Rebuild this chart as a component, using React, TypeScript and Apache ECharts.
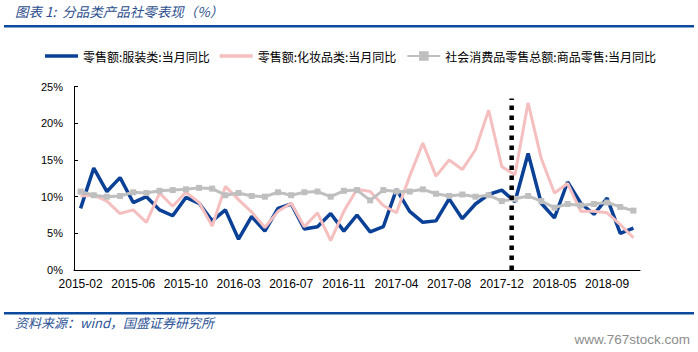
import React, { useEffect, useRef } from 'react';
import * as echarts from 'echarts';

const categories = [
  '2015-02', '2015-03', '2015-04', '2015-05', '2015-06', '2015-07', '2015-08', '2015-09', '2015-10', '2015-11', '2015-12',
  '2016-02', '2016-03', '2016-04', '2016-05', '2016-06', '2016-07', '2016-08', '2016-09', '2016-10', '2016-11', '2016-12',
  '2017-02', '2017-03', '2017-04', '2017-05', '2017-06', '2017-07', '2017-08', '2017-09', '2017-10', '2017-11', '2017-12',
  '2018-02', '2018-03', '2018-04', '2018-05', '2018-06', '2018-07', '2018-08', '2018-09', '2018-10', '2018-11',
];

// 零售额:服装类:当月同比
const apparel = [
  8.4, 13.9, 10.7, 12.6, 9.2, 10.0, 8.2, 7.4, 9.9, 9.1, 6.7,
  8.2, 4.2, 7.3, 5.3, 8.4, 9.0, 5.6, 5.9, 7.7, 5.3, 7.5,
  5.2, 5.9, 11.0, 8.0, 6.5, 6.7, 9.7, 7.0, 9.0, 10.3, 10.9,
  9.3, 15.9, 9.1, 7.1, 12.0, 9.1, 7.6, 9.8, 5.0, 5.7,
];

// 零售额:化妆品类:当月同比
const cosmetics = [
  10.1, 10.2, 9.4, 7.7, 8.2, 6.5, 10.5, 8.7, 10.6, 9.2, 6.0,
  11.4, 9.6, 7.9, 5.8, 8.0, 9.1, 5.9, 7.8, 4.0, 8.0, 11.0,
  10.7, 8.8, 7.8, 12.8, 17.3, 12.8, 15.0, 13.7, 16.4, 21.8, 14.1,
  13.0, 22.8, 15.2, 10.5, 11.8, 8.0, 8.0, 7.8, 6.2, 4.4,
];

// 社会消费品零售总额:商品零售:当月同比
const retailTotal = [
  10.7, 10.2, 10.0, 10.1, 10.6, 10.5, 10.8, 10.9, 11.0, 11.2, 11.1,
  10.2, 10.5, 10.1, 10.0, 10.6, 10.2, 10.6, 10.7, 10.0, 10.8, 10.9,
  9.5, 10.9, 10.7, 10.7, 11.0, 10.4, 10.1, 10.3, 10.0, 10.2, 9.4,
  9.7, 10.1, 9.4, 8.5, 9.0, 8.8, 9.0, 9.2, 8.6, 8.1,
];

const seriesNames = [
  '零售额:服装类:当月同比',
  '零售额:化妆品类:当月同比',
  '社会消费品零售总额:商品零售:当月同比',
];

const yMin = 0;
const yMax = 25;
const yStep = 5;

// vertical dotted separator, between 2017-12 and 2018-02 (in category-slot units)
const BREAK_POSITION = 33.25;
const BREAK_TOP = 23.4;

const LINE_ICON = 'path://M0,0H33V3.5H0Z';

export default function App() {
  const ref = useRef<HTMLDivElement>(null);

  useEffect(() => {
    const chart = echarts.init(ref.current as HTMLDivElement, null, { renderer: 'svg' });
    const axisColor = '#000';
    chart.setOption({
      animation: false,
      backgroundColor: '#fff',
      grid: { left: 74, right: 58, top: 86.7, bottom: 82, containLabel: false },
      legend: {
        left: 40,
        top: 45,
        itemWidth: 33,
        itemHeight: 12,
        itemGap: 10,
        data: [
          { name: seriesNames[0], icon: LINE_ICON },
          { name: seriesNames[1], icon: LINE_ICON },
          { name: seriesNames[2] },
        ],
        textStyle: { fontSize: 12, color: '#000', fontFamily: '"Noto Sans CJK SC"' },
      },
      xAxis: [
        {
          type: 'category',
          data: categories,
          boundaryGap: true,
          axisLine: { lineStyle: { color: axisColor, width: 1 } },
          axisTick: { inside: true, length: 4, interval: 0, lineStyle: { color: axisColor } },
          axisLabel: {
            interval: 3,
            margin: 8,
            fontSize: 12,
            color: '#000',
            fontFamily: '"Liberation Sans", Arial, sans-serif',
          },
          splitLine: { show: false },
        },
        {
          type: 'value',
          min: 0,
          max: categories.length,
          show: false,
        },
      ],
      yAxis: {
        type: 'value',
        min: yMin,
        max: yMax,
        interval: yStep,
        axisLine: { show: true, lineStyle: { color: axisColor, width: 1 } },
        axisTick: { show: true, inside: true, length: 4, lineStyle: { color: axisColor } },
        axisLabel: {
          formatter: '{value}%',
          margin: 11,
          fontSize: 11,
          color: '#000',
          fontFamily: '"Liberation Sans", Arial, sans-serif',
        },
        splitLine: { show: false },
      },
      series: [
        {
          name: seriesNames[0],
          type: 'line',
          data: apparel,
          symbol: 'none',
          lineStyle: { color: '#0b4097', width: 3.5 },
          itemStyle: { color: '#0b4097' },
          z: 2,
        },
        {
          name: seriesNames[1],
          type: 'line',
          data: cosmetics,
          symbol: 'none',
          lineStyle: { color: '#f5bfbf', width: 3 },
          itemStyle: { color: '#f5bfbf' },
          z: 3,
        },
        {
          name: seriesNames[2],
          type: 'line',
          data: retailTotal,
          symbol: 'rect',
          symbolSize: 6,
          lineStyle: { color: '#bfbfbf', width: 3 },
          itemStyle: { color: '#bfbfbf' },
          z: 4,
        },
        {
          name: 'break',
          type: 'line',
          xAxisIndex: 1,
          data: [
            [BREAK_POSITION, yMin],
            [BREAK_POSITION, BREAK_TOP],
          ],
          symbol: 'none',
          lineStyle: { color: '#000', width: 4.5, type: [4.5, 5.5], cap: 'butt' },
          z: 6,
          silent: true,
        },
      ],
      graphic: [
        {
          type: 'text',
          left: 15,
          top: 4,
          style: {
            text: '图表 1:  分品类产品社零表现（%）',
            font: 'italic 13.5px "Noto Sans CJK SC"',
            fill: '#2d4f8e',
          },
        },
        {
          type: 'rect',
          shape: { x: 4, y: 25, width: 690, height: 2.5 },
          style: { fill: '#0b4a9e' },
        },
        {
          type: 'rect',
          shape: { x: 4, y: 312, width: 690, height: 2.5 },
          style: { fill: '#0b4a9e' },
        },
        {
          type: 'text',
          left: 15,
          top: 316,
          style: {
            text: '资料来源：wind，国盛证券研究所',
            font: 'italic 13px "Noto Sans CJK SC"',
            fill: '#2f5597',
          },
        },
        {
          type: 'text',
          right: 8,
          top: 332,
          style: {
            text: 'www.767stock.com',
            font: '13.5px "Liberation Sans", Arial, sans-serif',
            fill: '#8c8c8c',
          },
        },
      ],
    });
    return () => chart.dispose();
  }, []);

  return <div ref={ref} style={{ position: 'fixed', left: 0, top: 0, width: 698, height: 352 }} />;
}
